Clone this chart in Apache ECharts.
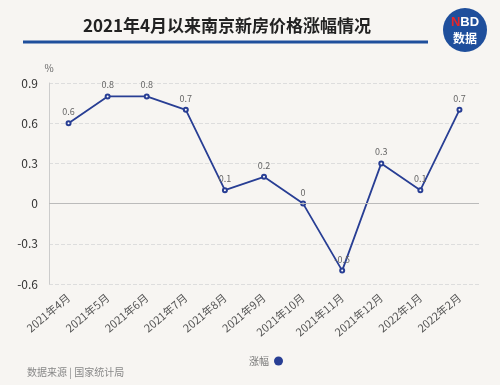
<!DOCTYPE html>
<html><head><meta charset="utf-8">
<script src="https://cdn.jsdelivr.net/npm/echarts@6/dist/echarts.min.js"></script>
<style>html,body{margin:0;padding:0;background:#f7f5f2}#c{width:500px;height:385px}</style>
</head><body><div id="c"></div>
<script>
const categories = ['2021年4月','2021年5月','2021年6月','2021年7月','2021年8月','2021年9月','2021年10月','2021年11月','2021年12月','2022年1月','2022年2月'];
const values = [0.6,0.8,0.8,0.7,0.1,0.2,0,-0.5,0.3,0.1,0.7];
const seriesName = '涨幅';
const yTicks = {min:-0.6,max:0.9,interval:0.3};

const chart = echarts.init(document.getElementById('c'));
chart.setOption({
  backgroundColor:'#f7f5f2',
  textStyle:{fontFamily:'"Noto Sans CJK SC","Noto Sans",sans-serif'},
  title:{text:'2021年4月以来南京新房价格涨幅情况',left:222,textAlign:'center',top:12,
    textStyle:{fontSize:17,fontWeight:'bold',color:'#222'}},
  graphic:[
    {type:'rect',shape:{x:23,y:40.5,width:405,height:3},style:{fill:'#1f4f9c'}},
    {type:'circle',shape:{cx:465,cy:30,r:22},style:{fill:'#1f4f9c'}},
    {type:'text',x:465,y:22,style:{text:'{r|N}{w|BD}',align:'center',verticalAlign:'middle',
      rich:{r:{fill:'#e4262b',fontSize:13,fontWeight:'bold',fontFamily:'Liberation Sans'},w:{fill:'#fff',fontSize:13,fontWeight:'bold',fontFamily:'Liberation Sans'}}}},
    {type:'text',x:465,y:38,style:{text:'数据',fill:'#fff',fontSize:12,fontWeight:'bold',align:'center',verticalAlign:'middle',fontFamily:'"Noto Sans CJK SC"'}},
    {type:'text',x:27,y:372,style:{text:'数据来源 | 国家统计局',fill:'#888',fontSize:10,verticalAlign:'middle',fontFamily:'"Noto Sans CJK SC"'}}
  ],
  legend:{data:[{name:seriesName,icon:'circle'}],left:244,top:351,align:'right',itemWidth:9,itemHeight:9,itemGap:4,
    textStyle:{color:'#777',fontSize:10}},
  grid:{left:49,right:21,top:83,bottom:101,containLabel:false},
  xAxis:{type:'category',data:categories,boundaryGap:true,
    axisLine:{show:false},axisTick:{show:false},
    axisLabel:{rotate:40,color:'#555',fontSize:11,interval:0,margin:12}},
  yAxis:{type:'value',min:yTicks.min,max:yTicks.max,interval:yTicks.interval,name:'%',
    nameLocation:'end',nameGap:10,nameTextStyle:{color:'#666',fontSize:10,align:'center'},
    axisLine:{show:true,lineStyle:{color:'#ccc'}},axisTick:{show:false},
    axisLabel:{color:'#333',fontSize:12,margin:11,formatter:v=>String(Math.round(v*10)/10)},
    splitLine:{show:true,lineStyle:{type:'dashed',color:'#ddd'}}},
  series:[{name:seriesName,type:'line',data:values,color:'#0b3ea8',
    lineStyle:{color:'#283e94',width:1.8},
    symbol:'emptyCircle',symbolSize:4,itemStyle:{color:'#283e94',borderColor:'#4a63b8'},
    label:{show:true,position:'top',color:'#666',fontSize:9,distance:4},
    markLine:{silent:true,symbol:'none',label:{show:false},lineStyle:{color:'#bbb',type:'solid',width:1},data:[{yAxis:0}]}
  }]
});
</script></body></html>
